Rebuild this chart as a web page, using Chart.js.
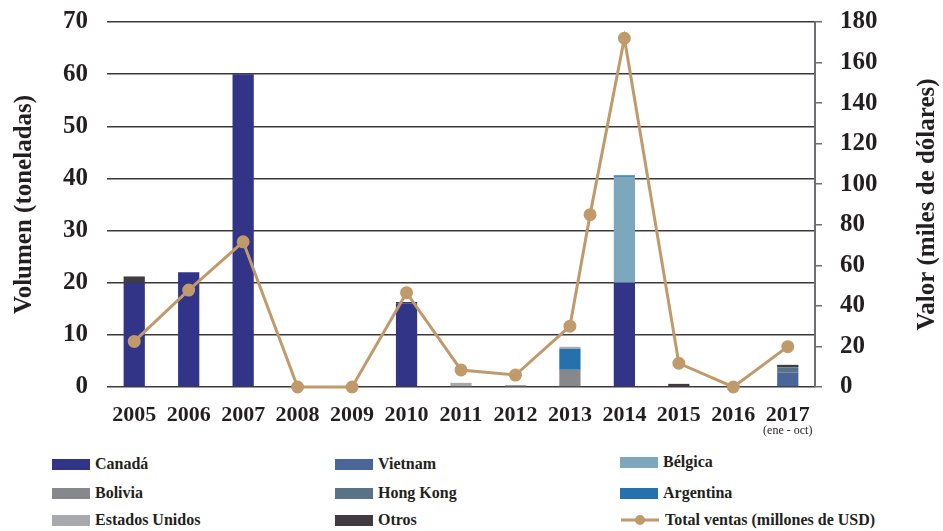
<!DOCTYPE html>
<html>
<head>
<meta charset="utf-8">
<script src="https://cdn.jsdelivr.net/npm/chart.js@4.4.1/dist/chart.umd.min.js"></script>
<style>
    body { margin: 0; background: #ffffff; }
    #wrap { position: relative; width: 943px; height: 531px; }
    #chartBox { position: absolute; left: 0; top: 0; width: 943px; height: 445px; }
    .legend-item {
        position: absolute;
        display: flex;
        align-items: center;
        height: 24px;
        transform: translateY(-50%);
        font: bold 16px "Liberation Serif", serif;
        color: #231f20;
        white-space: nowrap;
    }
    .legend-box { width: 38px; height: 11px; margin-right: 5px; }
</style>
</head>
<body>
<div id="wrap">
    <div id="chartBox"><canvas id="chart"></canvas></div>
    <div id="legend"></div>
</div>
<script>
// Categories
const years = ['2005', '2006', '2007', '2008', '2009', '2010', '2011', '2012', '2013', '2014', '2015', '2016', '2017'];

// Volume by country (toneladas)
const canada    = [20, 22, 60, 0, 0, 16, 0, 0, 0, 20, 0, 0, 0];
const vietnam   = [0, 0, 0, 0, 0, 0, 0, 0, 0, 0, 0, 0, 2.75];
const bolivia   = [0, 0, 0, 0, 0, 0, 0, 0, 3.3, 0, 0, 0, 0];
const hongKong  = [0, 0, 0, 0, 0, 0, 0, 0, 0, 0, 0, 0, 1.0];
const belgica   = [0, 0, 0, 0, 0, 0, 0, 0, 0, 20.3, 0, 0, 0];
const argentina = [0, 0, 0, 0, 0, 0, 0, 0, 4.0, 0.3, 0, 0, 0];
const eeuu      = [0, 0, 0, 0, 0, 0, 0.8, 0.4, 0.4, 0, 0, 0, 0];
const otros     = [1.2, 0, 0, 0, 0, 0.3, 0, 0, 0, 0, 0.6, 0, 0.5];

// Total sales line (position on the year index, value)
const ventasPos = [0, 1, 2, 3, 4, 5, 6, 7, 8, 8.37, 9, 10, 11, 12];
const ventas    = [22.5, 47.8, 71.6, 0, 0, 46.5, 8.4, 5.9, 30, 85, 172, 11.7, 0, 19.9];

// Axis ticks
const leftTicks = [0, 10, 20, 30, 40, 50, 60, 70];
const rightTicks = [0, 20, 40, 60, 80, 100, 120, 140, 160, 180];

const ink = '#231f20';
const lineColor = '#c09a6b';
const serif = '"Liberation Serif", serif';

const bars = [
    { label: 'Canadá', data: canada, color: '#323488' },
    { label: 'Vietnam', data: vietnam, color: '#4a6598' },
    { label: 'Bolivia', data: bolivia, color: '#87888c' },
    { label: 'Hong Kong', data: hongKong, color: '#587387' },
    { label: 'Bélgica', data: belgica, color: '#7ca7bd' },
    { label: 'Argentina', data: argentina, color: '#2471ad' },
    { label: 'Estados Unidos', data: eeuu, color: '#a7a9ac' },
    { label: 'Otros', data: otros, color: '#403b40' }
];

const datasets = bars.map(b => ({
    type: 'bar',
    label: b.label,
    data: b.data,
    backgroundColor: b.color,
    borderWidth: 0,
    barPercentage: 0.39,
    categoryPercentage: 1,
    grouped: false,
    xAxisID: 'x',
    yAxisID: 'y',
    order: 1
}));

datasets.push({
    type: 'line',
    label: 'Total ventas (millones de USD)',
    data: ventasPos.map((p, i) => ({ x: p, y: ventas[i] })),
    borderColor: lineColor,
    backgroundColor: lineColor,
    borderWidth: 3,
    pointRadius: 5,
    pointHoverRadius: 5,
    tension: 0,
    clip: false,
    xAxisID: 'xl',
    yAxisID: 'y2',
    order: 0
});

// Right axis title reads bottom-to-top, and the note under 2017
const extras = {
    id: 'extras',
    afterDraw(chart) {
        const { ctx, chartArea, scales } = chart;
        ctx.save();
        ctx.fillStyle = ink;
        ctx.font = 'bold 25px ' + serif;
        ctx.textAlign = 'center';
        ctx.textBaseline = 'middle';
        ctx.translate(scales.y2.right - 15, (chartArea.top + chartArea.bottom) / 2);
        ctx.rotate(-Math.PI / 2);
        ctx.fillText('Valor (miles de dólares)', 0, 0);
        ctx.restore();

        ctx.save();
        ctx.fillStyle = ink;
        ctx.font = '12px ' + serif;
        ctx.textAlign = 'center';
        ctx.textBaseline = 'middle';
        ctx.fillText('(ene - oct)', scales.x.getPixelForValue(12), chartArea.bottom + 44);
        ctx.restore();
    }
};

// keep the plot box fixed: no extra room for label overhang
const fixVertical = width => s => {
    s.width = width;
    s.paddingTop = 0;
    s.paddingBottom = 0;
};

const chart = new Chart(document.getElementById('chart'), {
    data: { labels: years, datasets: datasets },
    options: {
        responsive: true,
        maintainAspectRatio: false,
        animation: false,
        layout: { padding: { top: 22, right: 0, bottom: 0, left: 0 } },
        plugins: {
            legend: { display: false },
            tooltip: { enabled: false }
        },
        scales: {
            x: {
                type: 'category',
                offset: true,
                grid: { display: false },
                border: { display: false },
                ticks: { color: ink, font: { family: serif, size: 22, weight: 'bold' }, padding: 7, maxRotation: 0 },
                afterFit: s => { s.height = 58; s.paddingLeft = 0; s.paddingRight = 0; }
            },
            xl: {
                type: 'linear',
                display: false,
                min: -0.5,
                max: 12.5
            },
            y: {
                position: 'left',
                stacked: true,
                min: 0,
                max: 70,
                afterBuildTicks: s => { s.ticks = leftTicks.map(v => ({ value: v })); },
                grid: { color: '#3d3839', lineWidth: 1.5, drawTicks: false },
                border: { display: false },
                ticks: { color: ink, font: { family: serif, size: 25, weight: 'bold' }, padding: 19 },
                title: {
                    display: true,
                    text: 'Volumen (toneladas)',
                    color: ink,
                    font: { family: serif, size: 25, weight: 'bold' },
                    padding: { top: 10, bottom: 0 }
                },
                afterFit: fixVertical(107)
            },
            y2: {
                position: 'right',
                min: 0,
                max: 180,
                afterBuildTicks: s => { s.ticks = rightTicks.map(v => ({ value: v })); },
                grid: { drawOnChartArea: false, drawTicks: true, tickLength: 7, color: '#6d6e71', lineWidth: 1.5 },
                border: { display: true, color: '#6d6e71', width: 2 },
                ticks: { color: ink, font: { family: serif, size: 25, weight: 'bold' }, padding: 18 },
                afterFit: fixVertical(128)
            }
        }
    },
    plugins: [extras]
});

// HTML legend laid out in three columns
const legendOrder = [
    ['Canadá', 'Vietnam', 'Bélgica'],
    ['Bolivia', 'Hong Kong', 'Argentina'],
    ['Estados Unidos', 'Otros', 'Total ventas (millones de USD)']
];
const colLeft = [52, 335, 620];
const rowMid = [464, 493, 520];
const legend = document.getElementById('legend');
legendOrder.forEach((row, r) => {
    row.forEach((name, c) => {
        const ds = chart.data.datasets.find(d => d.label === name);
        const item = document.createElement('div');
        item.className = 'legend-item';
        item.style.left = colLeft[c] + 'px';
        item.style.top = (name === 'Bélgica' ? rowMid[r] - 2 : rowMid[r]) + 'px';
        let marker;
        if (ds.type === 'line') {
            marker = '<svg width="40" height="12" style="margin-right:5px">' +
                '<line x1="1" y1="6" x2="39" y2="6" stroke="' + ds.borderColor + '" stroke-width="3"/>' +
                '<circle cx="20" cy="6" r="5" fill="' + ds.borderColor + '"/></svg>';
        } else {
            marker = '<span class="legend-box" style="background:' + ds.backgroundColor + '"></span>';
        }
        item.innerHTML = marker + '<span>' + ds.label + '</span>';
        legend.appendChild(item);
    });
});
</script>
</body>
</html>
